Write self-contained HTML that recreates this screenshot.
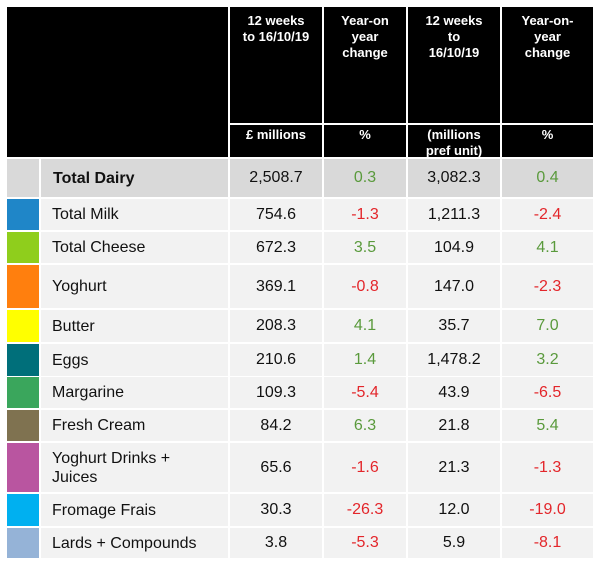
<!DOCTYPE html>
<html><head><meta charset="utf-8"><style>
body{margin:0;width:600px;height:564px;background:#fff;position:relative;font-family:"Liberation Sans",Arial,sans-serif;overflow:hidden}
.a{position:absolute;box-sizing:border-box}
.hd{background:#000;color:#fff;font-weight:bold;font-size:13px;line-height:16px;text-align:center;padding-top:6px}
.c{display:flex;align-items:center;font-size:16px;color:#111}
.n{justify-content:center}
.g{color:#5a9a3c}.r{color:#e3262b}
</style></head><body>
<div class="a" style="left:7px;top:7px;width:221px;height:150px;background:#000"></div>
<div class="a hd" style="left:230px;top:7px;width:92px;height:116px">12 weeks<br>to 16/10/19</div>
<div class="a hd" style="left:324px;top:7px;width:82px;height:116px">Year-on<br>year<br>change</div>
<div class="a hd" style="left:408px;top:7px;width:92px;height:116px">12 weeks<br>to<br>16/10/19</div>
<div class="a hd" style="left:502px;top:7px;width:91px;height:116px">Year-on-<br>year<br>change</div>
<div class="a hd" style="left:230px;top:125px;width:92px;height:32px;padding-top:2px">£ millions</div>
<div class="a hd" style="left:324px;top:125px;width:82px;height:32px;padding-top:2px">%</div>
<div class="a hd" style="left:408px;top:125px;width:92px;height:32px;padding-top:2px">(millions<br>pref unit)</div>
<div class="a hd" style="left:502px;top:125px;width:91px;height:32px;padding-top:2px">%</div>
<div id="rows"></div>
<script>
const categories=["Total Dairy","Total Milk","Total Cheese","Yoghurt","Butter","Eggs","Margarine","Fresh Cream","Yoghurt Drinks + Juices","Fromage Frais","Lards + Compounds"];
const valueGBP=["2,508.7","754.6","672.3","369.1","208.3","210.6","109.3","84.2","65.6","30.3","3.8"];
const valueChange=[0.3,-1.3,3.5,-0.8,4.1,1.4,-5.4,6.3,-1.6,-26.3,-5.3];
const volume=["3,082.3","1,211.3","104.9","147.0","35.7","1,478.2","43.9","21.8","21.3","12.0","5.9"];
const volumeChange=[0.4,-2.4,4.1,-2.3,7.0,3.2,-6.5,5.4,-1.3,-19.0,-8.1];
const swatch=["#d9d9d9","#1f86c8","#8fce1c","#ff7f0e","#ffff00","#006f7a","#3aa65c","#7f7250","#b955a0","#00b0f0","#95b3d7"];
const tops=[159,199,232,265,310,344,377,410,443,494,528];
const heights=[38,31,31,43,32,32,31,31,49,32,30];
const host=document.getElementById('rows');
const cols=[[230,92],[324,82],[408,92],[502,91]];
function cell(x,y,w,h,bg,cls,html){const d=document.createElement('div');d.className='a c '+cls;d.style.cssText=`left:${x}px;top:${y}px;width:${w}px;height:${h}px;background:${bg}`;d.innerHTML=html;host.appendChild(d);return d;}
categories.forEach((cat,i)=>{
 const y=tops[i],h=heights[i],bg=i==0?'#d9d9d9':'#f2f2f2';
 const sw=cell(7,y,32,h,swatch[i],'','');
 
 
 const lb=cell(41,y,187,h,bg,'',cat.replace(' + Juices',' +<br>Juices'));
 lb.style.paddingLeft='11px';lb.style.lineHeight='19px';
 if(i==0){lb.style.fontWeight='bold';lb.style.paddingLeft='12px';}
 
 
 const vals=[valueGBP[i],valueChange[i],volume[i],volumeChange[i]];
 vals.forEach((v,j)=>{
  let cls='n',txt=v;
  if(j%2==1){cls+=v<0?' r':' g';txt=v.toFixed(1);}
  const c=cell(cols[j][0],y,cols[j][1],h,bg,cls,txt);
  
  
 });
});
</script>
</body></html>
